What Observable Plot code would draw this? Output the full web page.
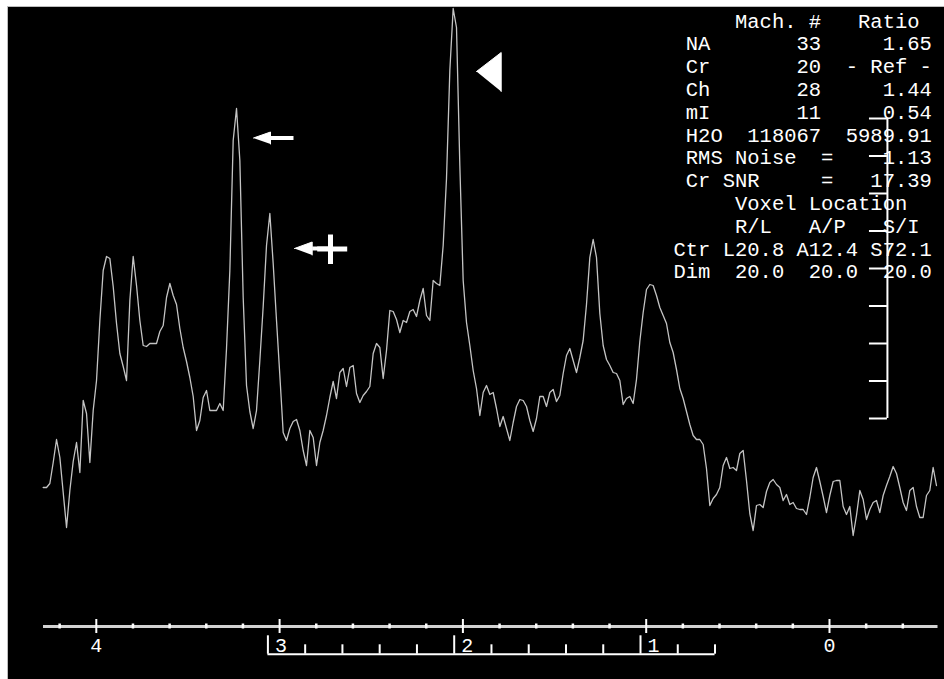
<!DOCTYPE html>
<html><head><meta charset="utf-8">
<script src="https://cdn.jsdelivr.net/npm/d3@7"></script>
<script src="https://cdn.jsdelivr.net/npm/@observablehq/plot@0.6"></script>
<style>html,body{margin:0;padding:0;background:#fff;} svg{display:block}</style>
</head><body><div id="chart"></div>
<script>
// ---- spectrum (ppm grid from first/last point, intensities) ----
const ppmFirst = 4.2897;
const ppmLast = -0.5836;
const intensity = [
139,139,143,164,187,169,134,99,136,165,
184,154,226,213,164,216,246,306,356,370,
368,340,303,273,260,246,326,370,341,306,
281,280,283,283,283,295,301,329,343,331,
322,298,279,265,249,230,196,206,229,236,
216,216,216,223,216,278,356,486,518,466,
329,241,215,198,216,266,320,381,413,363,
306,251,194,186,198,205,207,196,176,161,
196,189,161,184,196,211,229,245,228,254,
258,240,259,261,233,224,231,235,240,273,
283,279,248,276,316,315,307,294,306,304,
315,317,310,326,338,311,306,346,343,341,
381,448,556,618,599,461,346,304,281,256,
238,211,234,241,232,234,218,200,210,198,
186,204,220,227,226,220,206,195,208,230,
230,220,234,237,225,231,253,271,278,266,
254,269,286,322,369,387,369,313,281,267,
261,254,253,246,222,228,230,223,247,285,
314,337,342,341,331,319,311,303,284,274,
257,238,228,215,202,191,187,187,182,158,
121,128,132,139,161,169,158,159,156,173,
176,146,113,96,121,122,119,135,144,147,
142,139,126,132,122,124,118,117,117,112,
129,149,159,145,130,114,131,145,146,146,
120,112,120,91,111,136,127,107,117,124,
126,114,131,141,150,160,153,139,124,116,
136,139,120,109,109,131,136,159,141
];

// ---- primary ppm axis ----
const axisExtent = [4.288, -0.592];
const majorTicks = [4, 3, 2, 1, 0];
const minorTicks = [4.2, 3.8, 3.6, 3.4, 3.2, 2.8, 2.6, 2.4, 2.2, 1.8, 1.6, 1.4, 1.2, 0.8, 0.6, 0.4, 0.2, -0.2, -0.4];
const primaryLabels = [4, 0];

// ---- secondary (bracket) ppm scale ----
const secondaryMajor = [3, 2, 1];
const secondaryMinor = [2.8, 2.6, 2.4, 2.2, 1.8, 1.6, 1.4, 1.2, 0.8, 0.6];
const secondaryOffset = 0.0147, secondaryGain = 1.01637;
const toPrimary = p => secondaryOffset + secondaryGain * p;

// ---- intensity ruler ----
const rulerPpm = -0.316, rulerTickEnd = -0.218;
const rulerTicks = [208, 245.5, 283, 320.5, 358, 395.5, 433, 470.5, 508];

// ---- info table ----
const tableHeader = ["Mach. #", "Ratio"];
const metabolites = ["NA", "Cr", "Ch", "mI", "H2O"];
const machineNumbers = ["33", "20", "28", "11", "118067"];
const ratios = ["1.65", "- Ref -", "1.44", "0.54", "5989.91"];
const statLabels = ["RMS Noise", "Cr SNR"];
const statValues = ["1.13", "17.39"];
const voxelTitle = "Voxel Location";
const voxelAxes = ["R/L", "A/P", "S/I"];
const voxelRowNames = ["Ctr", "Dim"];
const voxelCtr = ["L20.8", "A12.4", "S72.1"];
const voxelDim = ["20.0", "20.0", "20.0"];

// ---- annotations (ppm, intensity) ----
const markerShapes = [
  {id: "naa", pts: [[1.9258, 555], [1.7911, 574], [1.7911, 535]]},
  {id: "cho", pts: [[3.1424, 488.5], [3.0496, 494.5], [3.0496, 482.5]]},
  {id: "cr",  pts: [[2.9187, 378], [2.8222, 384.5], [2.8222, 371.5]]}
];
const markerBars = [
  {x1: 3.0496, x2: 2.9242, y1: 488.5, y2: 488.5, w: 4},
  {x1: 2.8222, x2: 2.7223, y1: 378, y2: 378, w: 4},
  {x1: 2.7949, x2: 2.6312, y1: 377.5, y2: 377.5, w: 5},
  {x1: 2.7223, x2: 2.7223, y1: 392, y2: 362.5, w: 5}
];

// ---- build ----
const spectrum = intensity.map((v, i) => ({ppm: ppmFirst + i * (ppmLast - ppmFirst) / (intensity.length - 1), v}));
const nb = s => s.replace(/ /g, "\u00A0");
const tableLines = [
  "     " + tableHeader[0] + "   " + tableHeader[1],
  ...metabolites.map((m, i) => (" " + m).padEnd(4) + machineNumbers[i].padStart(8) + ratios[i].padStart(9)),
  ...statLabels.map((s, i) => (" " + s).padEnd(12) + "=" + statValues[i].padStart(8)),
  "     " + voxelTitle,
  "   " + voxelAxes.map(a => a.padStart(5) + " ").join(""),
  voxelRowNames[0] + voxelCtr.map(c => c.padStart(6)).join(""),
  voxelRowNames[1] + voxelDim.map(c => c.padStart(6)).join("")
].map(nb);
const shapePts = markerShapes.flatMap(s => s.pts.map(p => ({id: s.id, x: p[0], y: p[1]})));

const font = "Liberation Mono, DejaVu Sans Mono, monospace";
const chart = Plot.plot({
  width: 944, height: 679,
  marginLeft: 7, marginTop: 6, marginRight: 0, marginBottom: 0,
  x: {domain: [4, 0], range: [95.8, 829], axis: null},
  y: {domain: [0, 600], range: [626, 26], axis: null},
  style: {background: "#fff", overflow: "visible"},
  marks: [
    Plot.frame({fill: "#000", stroke: "#bdbdbd"}),
    // spectrum
    Plot.line(spectrum, {x: "ppm", y: "v", stroke: "#c4c4c4", strokeWidth: 1.3}),
    // primary axis
    Plot.ruleY([0], {x1: axisExtent[0], x2: axisExtent[1], stroke: "#d2d2d2", strokeWidth: 3}),
    Plot.ruleX(majorTicks, {x: d => d, y1: -7, y2: 7, stroke: "#fff", strokeWidth: 2}),
    Plot.ruleX(minorTicks, {x: d => d, y1: -2.5, y2: 2.5, stroke: "#fff", strokeWidth: 2.5}),
    Plot.text(primaryLabels, {x: d => d, y: 0, dy: 19, text: d => String(d), fill: "#fff", fontSize: 20, fontFamily: font}),
    // secondary bracket scale
    Plot.ruleY([0], {x1: toPrimary(secondaryMajor[0]), x2: toPrimary(secondaryMinor[secondaryMinor.length - 1]), y: -27.7, stroke: "#fff", strokeWidth: 2}),
    Plot.ruleX(secondaryMajor, {x: toPrimary, y1: -9.3, y2: -27.7, stroke: "#fff", strokeWidth: 2}),
    Plot.ruleX(secondaryMinor, {x: toPrimary, y1: -18.3, y2: -27.7, stroke: "#fff", strokeWidth: 2}),
    Plot.text(secondaryMajor, {x: toPrimary, y: 0, dx: 7, dy: 19, textAnchor: "start", text: d => String(d), fill: "#fff", fontSize: 20, fontFamily: font}),
    // intensity ruler
    Plot.ruleX([rulerPpm], {y1: rulerTicks[0], y2: rulerTicks[rulerTicks.length - 1], stroke: "#fff", strokeWidth: 2}),
    Plot.ruleY(rulerTicks, {y: d => d, x1: rulerTickEnd, x2: rulerPpm, stroke: "#fff", strokeWidth: 2}),
    // info table
    Plot.text([tableLines.join("\n")], {frameAnchor: "top-left", dx: 666, dy: 5, textAnchor: "start", lineAnchor: "top", lineHeight: 1.112, text: d => d, fill: "#fff", fontSize: 20.5, fontFamily: font}),
    // annotation markers
    Plot.line(shapePts, {x: "x", y: "y", z: "id", fill: "#fff", stroke: "#fff", strokeWidth: 1}),
    Plot.link(markerBars, {x1: "x1", x2: "x2", y1: "y1", y2: "y2", strokeWidth: "w", stroke: "#fff"})
  ]
});
document.getElementById("chart").appendChild(chart);
</script>
</body></html>
